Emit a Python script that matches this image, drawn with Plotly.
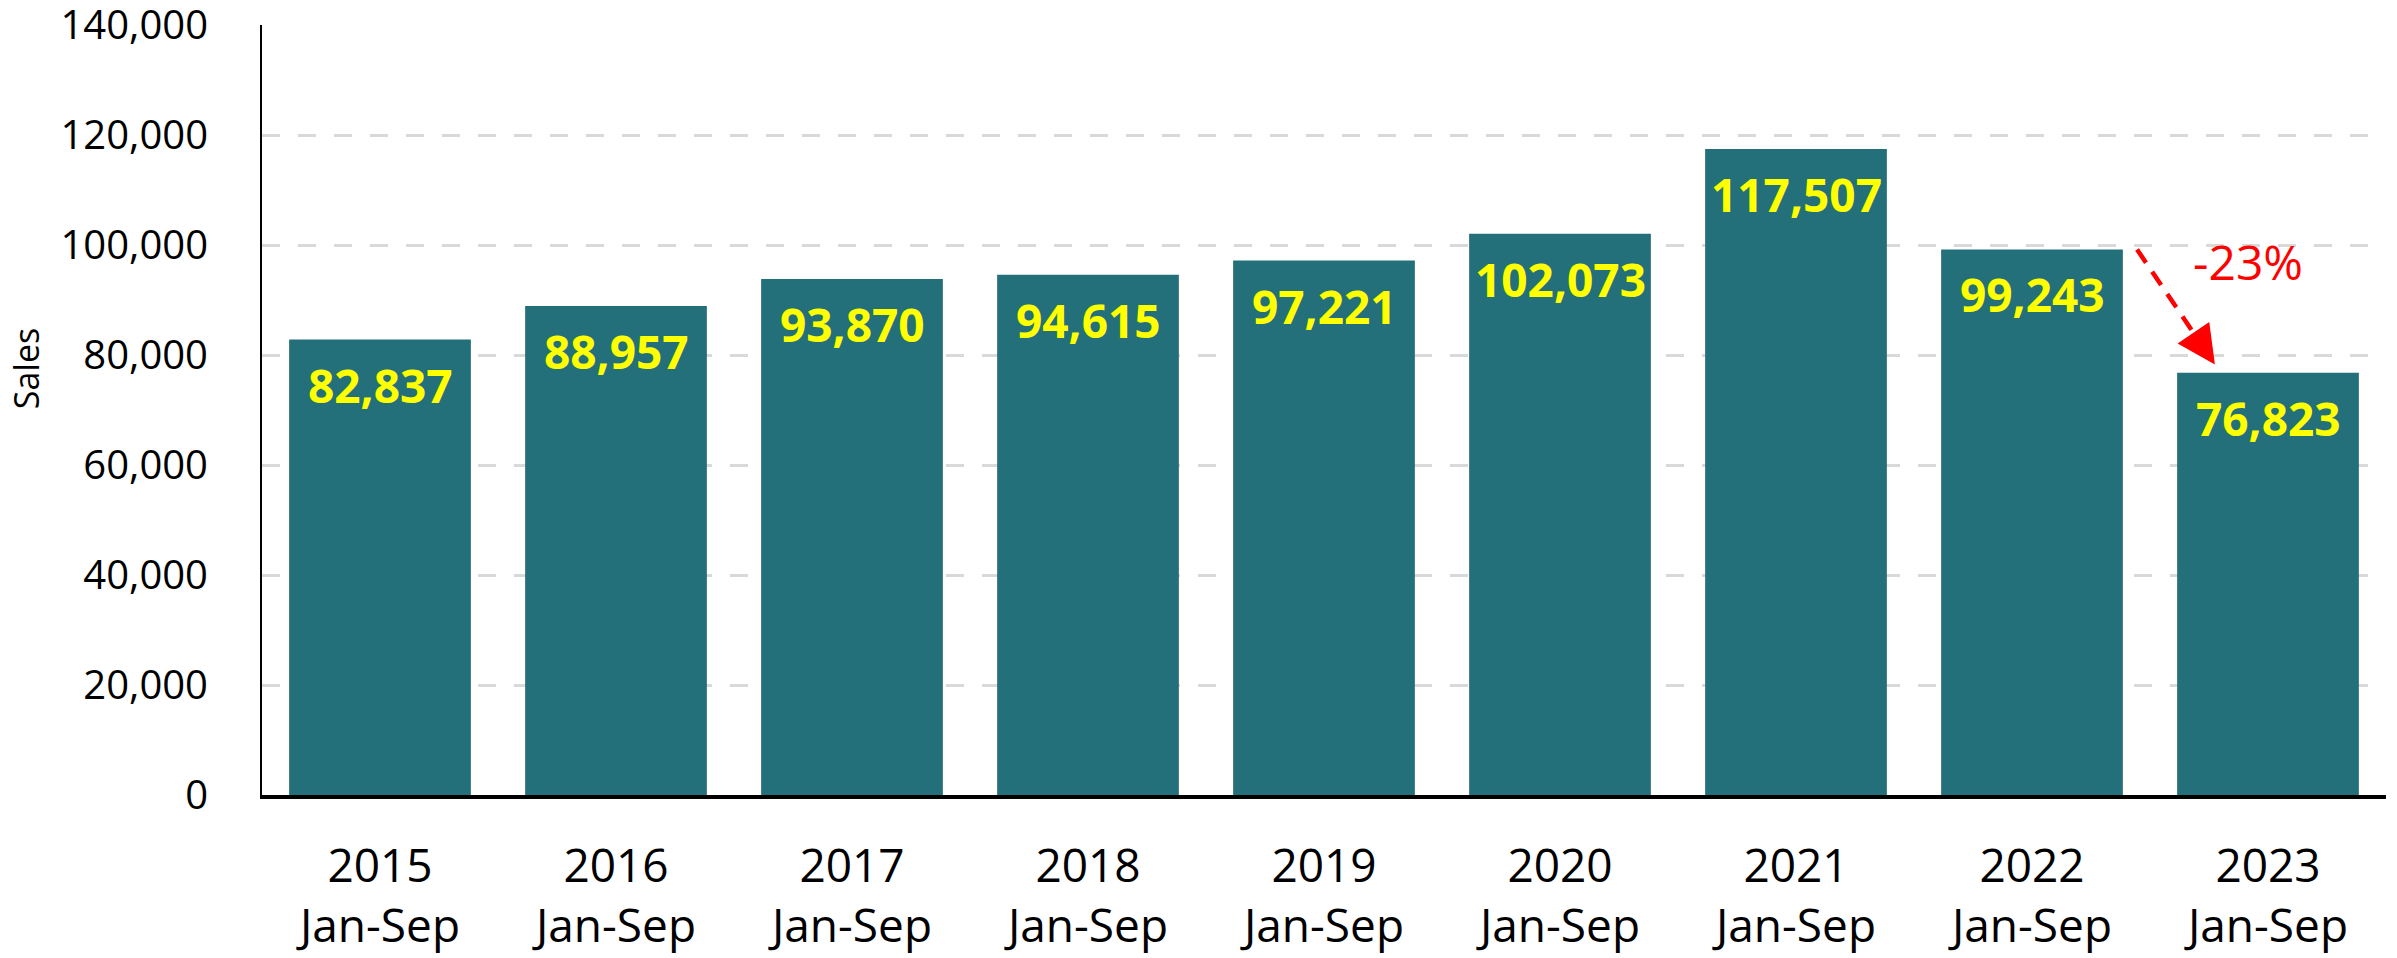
import plotly.graph_objects as go

years = ["2015", "2016", "2017", "2018", "2019", "2020", "2021", "2022", "2023"]
period = "Jan-Sep"
sales = [82837, 88957, 93870, 94615, 97221, 102073, 117507, 99243, 76823]
change_label = "-23%"
y_ticks = [0, 20000, 40000, 60000, 80000, 100000, 120000, 140000]

BAR = "#23707A"
FONT = "Open Sans"

idx = list(range(len(years)))
tick_text = [f"{y}<br>{period}" for y in years]

fig = go.Figure()
fig.add_trace(go.Bar(
    x=idx, y=sales,
    marker=dict(color=BAR, line=dict(width=0)),
    width=0.77,
    hoverinfo="skip",
))

# value labels inside the top of each bar
for i, v in zip(idx, sales):
    fig.add_annotation(
        x=i, y=v, xref="x", yref="y", yanchor="middle", yshift=-45,
        text=f"{v:,}", showarrow=False,
        font=dict(family=FONT, size=46, color="#FFFF00", weight="bold"),
    )

# dashed arrow from 2022 to 2023
i0, i1 = len(years) - 2, len(years) - 1
x0, y0 = i0 + 0.445, sales[i0]
x1, y1 = i1 - 0.225, sales[i1] + 1500
fig.add_trace(go.Scatter(
    x=[x0, x0 + (x1 - x0) * 0.85], y=[y0, y0 + (y1 - y0) * 0.85],
    mode="lines",
    line=dict(color="#FF0000", width=4.5, dash="16px,11px"),
    hoverinfo="skip", showlegend=False,
))
fig.add_annotation(
    x=x1, y=y1, ax=x0 + (x1 - x0) * 0.8, ay=y0 + (y1 - y0) * 0.8,
    xref="x", yref="y", axref="x", ayref="y",
    showarrow=True, arrowhead=2, arrowsize=1.7, arrowwidth=4.5,
    arrowcolor="#FF0000", text="",
)
fig.add_annotation(
    x=i1 - 0.085, y=(sales[i0] + sales[i1]) / 2 + 9000,
    xref="x", yref="y", text=change_label, showarrow=False,
    font=dict(family=FONT, size=48, color="#FF0000"),
)
fig.add_annotation(
    x=(26 - 262) / 2124, y=0.553, xref="paper", yref="paper",
    xanchor="center", yanchor="middle",
    text="Sales", textangle=-90, showarrow=False,
    font=dict(family=FONT, size=34, color="#000000"),
)

fig.update_layout(
    width=2397, height=958,
    margin=dict(l=262, r=11, t=25, b=163, autoexpand=False),
    paper_bgcolor="white", plot_bgcolor="white",
    showlegend=False,
    bargap=0.23,
    font=dict(family=FONT, color="#000000"),
)
fig.update_xaxes(
    tickmode="array", tickvals=idx, ticktext=tick_text,
    range=[-0.5, len(years) - 0.5],
    showgrid=False, zeroline=False, automargin=False,
    showline=True, linecolor="#000000", linewidth=4,
    ticks="", ticklabelstandoff=28,
    tickfont=dict(family=FONT, size=46, color="#000000"),
)
fig.update_yaxes(
    range=[0, 140060], tickmode="array", tickvals=y_ticks,
    ticktext=[f"{v:,}" for v in y_ticks],
    showgrid=True, gridcolor="#D9D9D9", gridwidth=2.5, griddash="18px,18px",
    zeroline=False, automargin=False, ticklabeloverflow="allow",
    showline=True, linecolor="#000000", linewidth=2,
    ticks="", ticklabelstandoff=44,
    tickfont=dict(family=FONT, size=40, color="#000000"),
)

fig.write_html(
    "out.html",
    config={"displayModeBar": False},
    post_script="document.body.style.margin='0';document.body.style.overflow='hidden';",
)
